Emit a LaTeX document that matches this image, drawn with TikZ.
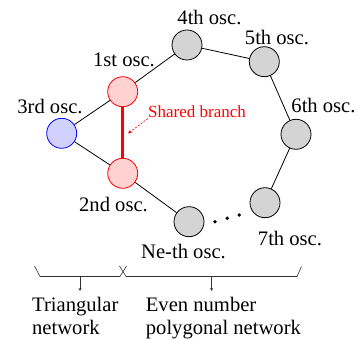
\documentclass[tikz,border=0pt]{standalone}
\usepackage{fontspec}
\setmainfont{Liberation Serif}
\usetikzlibrary{arrows.meta}
\begin{document}
\begin{tikzpicture}[x=1pt,y=-1pt,
  osc/.style={circle,draw,line width=0.8pt,minimum size=30pt,inner sep=0pt},
  grayosc/.style={osc,fill=black!17},
  redosc/.style={osc,draw=red,fill=red!18},
  blueosc/.style={osc,draw=blue,fill=blue!18},
  lbl/.style={inner sep=0pt,font=\fontsize{20.6}{23.3}\selectfont},
  link/.style={line width=0.8pt},
  brace/.style={line width=0.6pt,black!80}]
\useasboundingbox (0,0) rectangle (357,339);

% oscillators
\node[redosc]  (o1) at (122.7,91.7) {};
\node[redosc]  (o2) at (122.7,173.3) {};
\node[blueosc] (o3) at (61.7,133.3) {};
\node[grayosc] (o4) at (187,45) {};
\node[grayosc] (o5) at (264.3,61.7) {};
\node[grayosc] (o6) at (296,134.3) {};
\node[grayosc] (o7) at (265,202.7) {};
\node[grayosc] (oN) at (189,221.7) {};

% couplings
\draw[link] (o1) -- (o4);
\draw[link] (o4) -- (o5);
\draw[link] (o5) -- (o6);
\draw[link] (o6) -- (o7);
\draw[link] (o1) -- (o3);
\draw[link] (o3) -- (o2);
\draw[link] (o2) -- (oN);
\draw[red,line width=2.6pt] (o1) -- (o2);

% omitted oscillators
\foreach \p/\q in {215/221.7,227.3/218.3,239.3/215}
  \fill (\p,\q) circle (1.9pt);

% labels
\node[lbl] (l1) at (124,60) {1st osc.};
\node[lbl] (l2) at (113.5,205) {2nd osc.};
\node[lbl] (l3) at (50,107) {3rd osc.};
\node[lbl] (l4) at (209.5,18) {4th osc.};
\node[lbl] (l5) at (277,38) {5th osc.};
\node[lbl] (l6) at (323.5,106) {6th osc.};
\node[lbl] (l7) at (290,238.3) {7th osc.};
\node[lbl] (lN) at (183.5,251.7) {Ne-th osc.};

% shared branch annotation
\node[inner sep=0pt,text=red,font=\fontsize{17}{19}\selectfont,anchor=west] (sb) at (148,111.7) {Shared branch};
\coordinate (sbtail) at (148,118.5);
\coordinate (sbhead) at (128,133.5);
\draw[red,line width=0.6pt,dash pattern=on 2pt off 1.5pt,-{Stealth[length=4pt,width=3.5pt]}] (sbtail) -- (sbhead);

% network brackets
\coordinate (ta) at (34.5,266);
\coordinate (tb) at (40,276.5);
\coordinate (tc) at (120,276.5);
\coordinate (td) at (126.5,266);
\draw[brace] (ta) -- (tb) -- (tc) -- (td);
\coordinate (pa) at (119.5,266);
\coordinate (pb) at (126,276.5);
\coordinate (pc) at (297,276.5);
\coordinate (pd) at (301.5,266.5);
\draw[brace] (pa) -- (pb) -- (pc) -- (pd);

\coordinate (tm) at (80,276.5);
\coordinate (pm) at (211.7,276.5);

% two-line captions (base anchor sits on the last line)
\node[lbl,anchor=base west,align=left] (tn) at (32,335) {Triangular\\network};
\node[lbl,anchor=base west,align=left] (pn) at (145.7,335) {Even number\\polygonal network};

\draw[brace,-{Stealth[length=3pt,width=3pt]}] (tm) -- (80,291);
\draw[brace,-{Stealth[length=3pt,width=3pt]}] (pm) -- (211.7,291);
\end{tikzpicture}
\end{document}
